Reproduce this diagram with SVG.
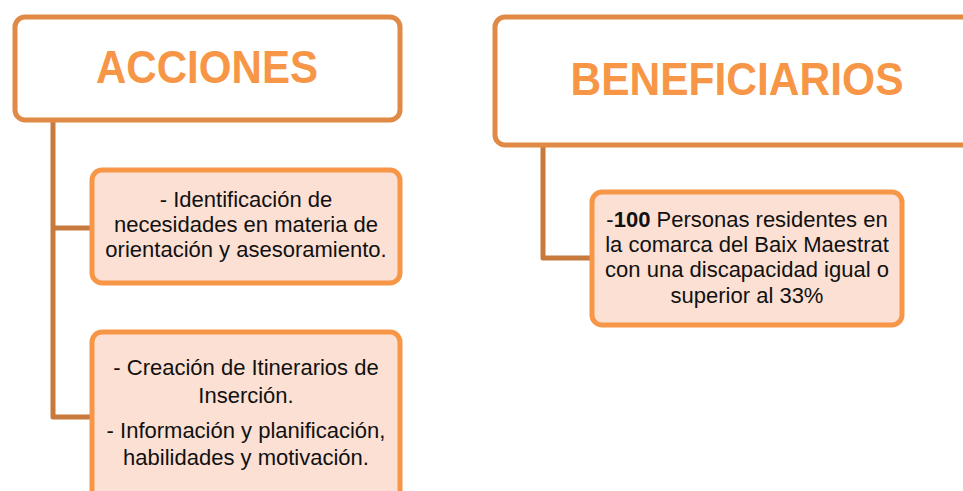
<svg xmlns="http://www.w3.org/2000/svg" width="963" height="491" viewBox="0 0 963 491">
<style>
.head{fill:#fff;stroke:#E08A45;stroke-width:5}
.child{fill:#FBE0D3;stroke:#F79646;stroke-width:5}
.ht{font-family:"Liberation Sans",Arial,sans-serif;font-weight:bold;font-size:46px;fill:#F79646;text-anchor:middle}
.t{font-family:"Liberation Sans",Arial,sans-serif;font-size:22px;fill:#111;text-anchor:middle}
.c{fill:none;stroke:#C87A3E;stroke-width:5;stroke-linejoin:round}
</style>
<rect width="963" height="491" fill="#fff"/>
<g id="connectors">
<path class="c" d="M53,120 V417 H92 M53,228 H92"/>
<path class="c" d="M543,145 V258 H592"/>
</g>
<g id="acciones">
<rect class="head" x="15" y="17" width="385" height="103" rx="10"/>
<text class="ht" x="207" y="83" textLength="222" lengthAdjust="spacingAndGlyphs">ACCIONES</text>
</g>
<g id="accion1">
<rect class="child" x="92" y="170" width="308" height="113" rx="10"/>
<text class="t" x="246" y="207">- Identificación de</text>
<text class="t" x="246" y="232">necesidades en materia de</text>
<text class="t" x="246" y="257">orientación y asesoramiento.</text>
</g>
<g id="accion2">
<rect class="child" x="92" y="332" width="308" height="175" rx="10"/>
<text class="t" x="246" y="375">- Creación de Itinerarios de</text>
<text class="t" x="246" y="403">Inserción.</text>
<text class="t" x="246" y="438">- Información y planificación,</text>
<text class="t" x="246" y="465">habilidades y motivación.</text>
</g>
<g id="beneficiarios">
<rect class="head" x="495" y="17" width="500" height="128" rx="10"/>
<text class="ht" x="737" y="95" textLength="333" lengthAdjust="spacingAndGlyphs">BENEFICIARIOS</text>
</g>
<g id="beneficiario1">
<rect class="child" x="592" y="192" width="310" height="133" rx="10"/>
<text class="t" x="747" y="227">-<tspan font-weight="bold">100</tspan> Personas residentes en</text>
<text class="t" x="747" y="252">la comarca del Baix Maestrat</text>
<text class="t" x="747" y="277">con una discapacidad igual o</text>
<text class="t" x="747" y="303">superior al 33%</text>
</g>
</svg>
